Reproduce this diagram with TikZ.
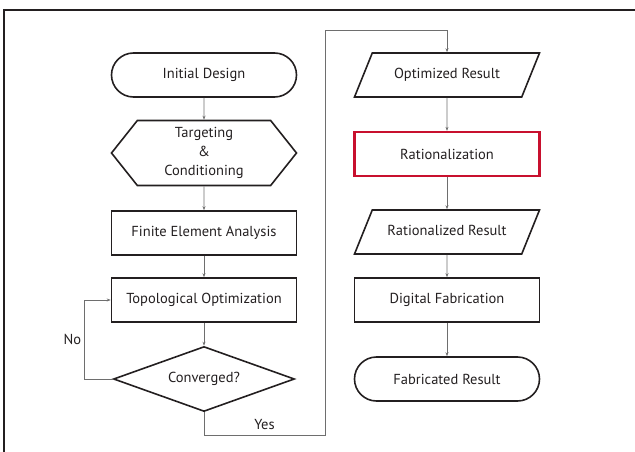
\documentclass[tikz,border=0pt]{standalone}
\usepackage{fontspec}
\setmainfont{PT Sans}
\usetikzlibrary{shapes.geometric,shapes.misc,shapes.symbols,arrows.meta}

\definecolor{linegray}{RGB}{110,110,110}
\definecolor{ratred}{RGB}{200,16,46}
\definecolor{edgeblack}{RGB}{35,31,32}

\begin{document}
\begin{tikzpicture}[x=1pt, y=-1pt,
    every node/.style={font=\fontsize{14.5}{19}\selectfont, text=edgeblack},
    box/.style={draw=edgeblack, line width=1.6pt, minimum width=185pt, minimum height=44pt, inner sep=0pt},
    terminal/.style={box, rounded rectangle},
    process/.style={box, rectangle},
    prep/.style={box, signal, signal to=east and west, signal pointer angle=103, minimum height=65pt, align=center},
    decision/.style={box, diamond, aspect=2.8, minimum width=181pt, minimum height=65pt},
    io/.style={box, trapezium, trapezium left angle=68, trapezium right angle=112, trapezium stretches body,
        text height=11pt, text depth=4pt, inner ysep=14.5pt},
    flow/.style={draw=linegray, line width=0.6pt, -{Stealth[length=4pt,width=3pt]}}]
    \useasboundingbox (0,0) rectangle (635,452);
    % frame
    \draw[line width=1.8pt, edgeblack] (4,452) -- (4,10) -- (635,10);

    % left column
    \node[terminal] (init) at (204,75) {Initial Design};
    \node[prep] (target) at (204,153) {Targeting\\\&\\Conditioning};
    \node[process] (fea) at (204,233) {Finite Element Analysis};
    \node[process] (topo) at (204,300) {Topological Optimization};
    \node[decision] (conv) at (204,379) {Converged?};

    % right column
    \node[io] (opt) at (447,75) {Optimized Result};
    \node[process, draw=ratred, line width=2.3pt] (rat) at (447,154) {Rationalization};
    \node[io] (ratres) at (447,232) {Rationalized Result};
    \node[process] (dfab) at (447,300) {Digital Fabrication};
    \node[terminal] (fab) at (447,379) {Fabricated Result};

    \coordinate (yesturn) at (325,435);
    \coordinate (yestop) at (325,30);

    \draw[flow] (init) -- (target);
    \draw[flow] (target) -- (fea);
    \draw[flow] (fea) -- (topo);
    \draw[flow] (topo) -- (conv);
    \draw[flow] (conv.west) -- ++(-28,0) |- (topo.west) node[pos=0.25, left=0pt] {No};
    \draw[flow] (conv.south) |- (yesturn) node[pos=0.75, above=2pt] {Yes} -- (yestop) -| (opt.north);
    \draw[flow] (opt) -- (rat);
    \draw[flow] (rat) -- (ratres);
    \draw[flow] (ratres) -- (dfab);
    \draw[flow] (dfab) -- (fab);
\end{tikzpicture}
\end{document}
